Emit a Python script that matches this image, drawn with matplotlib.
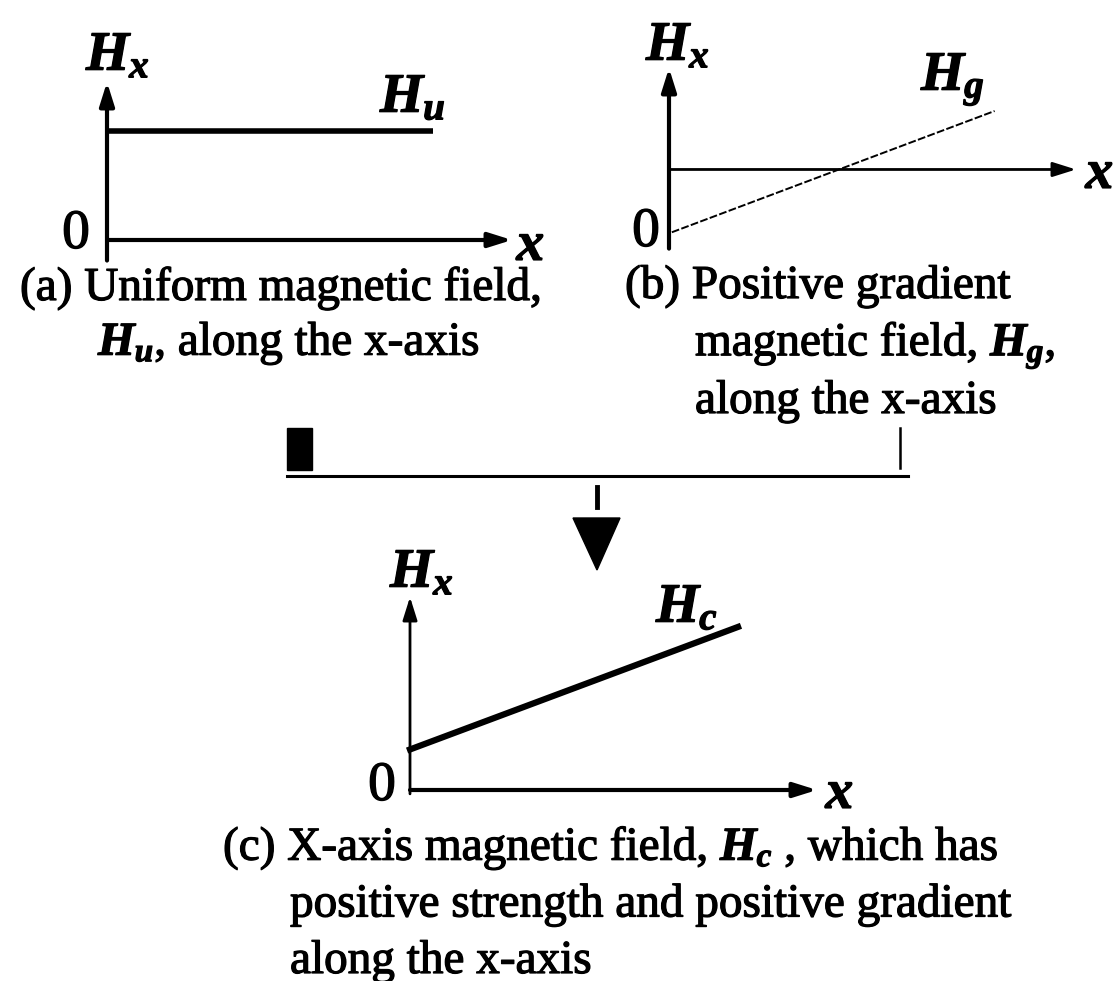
import matplotlib
matplotlib.use("Agg")
import matplotlib.pyplot as plt
import matplotlib.patheffects as pe
from matplotlib.transforms import Affine2D
from matplotlib.patches import Polygon, Rectangle

# ---------------- data (panel units: each axis runs 0..10) ----------------
# panel (a): uniform field
a_Hu_x = [0.0, 8.05]
a_Hu_y = [6.9, 6.9]
# panel (b): positive-gradient field, crossing a horizontal reference at 4.1
b_ref_level = 4.1
b_Hg_x = [0.07, 8.0]
b_Hg_y = [0.45, 7.5]
# panel (c): combined field (offset + gradient)
c_Hc_x = [0.0, 8.06]
c_Hc_y = [2.1, 8.45]

captions_a = ["(a) Uniform magnetic field,", r"$H_u$, along the x-axis"]
captions_b = ["(b) Positive gradient", r"magnetic field, $H_g$,", "along the x-axis"]
captions_c = [r"(c) X-axis magnetic field, $H_c$ , which has",
              "positive strength and positive gradient",
              "along the x-axis"]

# ---------------- style ----------------
plt.rcParams['font.family'] = ['Liberation Serif', 'DejaVu Serif']
plt.rcParams['mathtext.fontset'] = 'custom'
plt.rcParams['mathtext.it'] = 'Liberation Serif:italic:bold'
plt.rcParams['mathtext.rm'] = 'Liberation Serif'
plt.rcParams['mathtext.bf'] = 'Liberation Serif:bold'

W, H = 1114, 981
fig = plt.figure(figsize=(W / 100, H / 100), dpi=100)
ax = fig.add_axes([0, 0, 1, 1])
ax.set_xlim(0, W)
ax.set_ylim(H, 0)
ax.axis('off')

CAP = 34
LAB = 40
thick = [pe.withStroke(linewidth=0.9, foreground='black')]


def panel(ox, oy, sx, sy):
    return Affine2D().scale(sx, -sy).translate(ox, oy) + ax.transData


def arrow(tr, start, tip, lw=2.5):
    ax.annotate('', xy=tip, xycoords=tr, xytext=start, textcoords=tr,
                arrowprops=dict(arrowstyle='-|>,head_length=0.7,head_width=0.22',
                                lw=lw, color='black',
                                mutation_scale=20, shrinkA=0, shrinkB=0))


def lab(x, y, s, size=LAB, ha='left', va='baseline'):
    ax.text(x, y, s, fontsize=size, ha=ha, va=va, path_effects=thick)


def captions(lines, x0, x1, y0, dy):
    for i, s in enumerate(lines):
        ax.text(x0 if i == 0 else x1, y0 + dy * i, s, fontsize=CAP, ha='left',
                va='baseline', path_effects=thick)


# ---- panel (a)
ta = panel(107, 240, 40.5, 15.8)
arrow(ta, (0, -1.3), (0, 10), lw=3)
arrow(ta, (0, 0), (10, 0), lw=3)
ax.plot(a_Hu_x, a_Hu_y, color='black', lw=4, transform=ta, solid_capstyle='butt')
lab(86, 70, r"$H_x$")
lab(380, 112, r"$H_u$")
lab(76, 234, "0", ha='center', va='center')
lab(531, 246, r"$x$", ha='center', va='center')
captions(captions_a, 20, 98, 300, 55)

# ---- panel (b)
tb = panel(669, 240, 40.7, 17.2)
arrow(tb, (0, -0.5), (0, 10), lw=3)
arrow(tb, (0, b_ref_level), (10, b_ref_level), lw=2)
ax.plot(b_Hg_x, b_Hg_y, color='black', lw=1.4, transform=tb, linestyle=(0, (4, 1.2)))
lab(646, 60, r"$H_x$")
lab(921, 90, r"$H_g$")
lab(646, 232, "0", ha='center', va='center')
lab(1100, 174, r"$x$", ha='center', va='center')
captions(captions_b, 625, 695, 298, 57.5)

# ---- divider with downward arrow
ax.add_patch(Rectangle((287, 428), 25, 42, color='black'))
ax.plot([287, 908], [476, 476], color='black', lw=2.2)
ax.plot([900, 900], [428, 468], color='black', lw=1.8)
ax.plot([597, 597], [487, 507], color='black', lw=3.5)
ax.add_patch(Polygon([[573, 518], [620, 518], [597, 570]], closed=True, color='black'))

# ---- panel (c)
tc = panel(410, 790, 40.7, 19.3)
arrow(tc, (0, -0.2), (0, 10), lw=2)
arrow(tc, (0, 0), (10, 0), lw=3)
ax.plot(c_Hc_x, c_Hc_y, color='black', lw=4.5, transform=tc)
lab(390, 587, r"$H_x$")
lab(656, 622, r"$H_c$")
lab(382, 786, "0", ha='center', va='center')
lab(840, 794, r"$x$", ha='center', va='center')
captions(captions_c, 223, 290, 860, 56.5)

fig.savefig("out.png", dpi=100, facecolor='white')
